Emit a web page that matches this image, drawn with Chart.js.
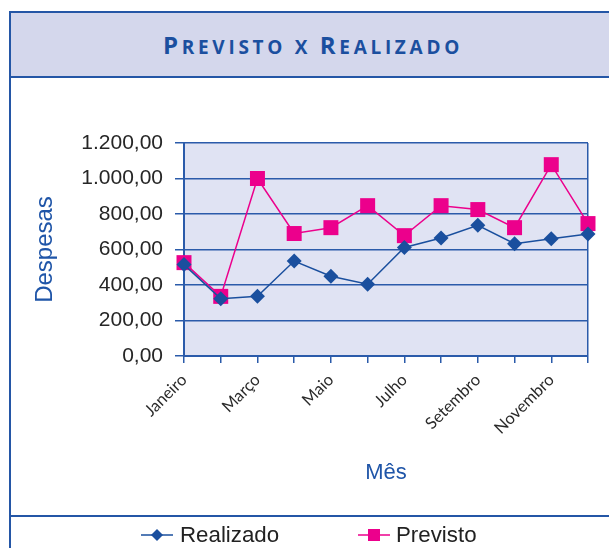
<!DOCTYPE html>
<html>
<head>
<meta charset="utf-8">
<script src="https://cdn.jsdelivr.net/npm/chart.js@4"></script>
<style>
  html, body { margin:0; padding:0; background:#ffffff; width:609px; height:548px; overflow:hidden; }
  #frame { position:absolute; left:9px; top:11px; width:640px; height:600px;
           border-left:2px solid #2456A6; border-top:2px solid #2456A6; }
  #header { position:absolute; left:11px; top:13px; width:640px; height:63px;
            background:#D4D7EC; border-bottom:2px solid #2456A6; }
  #title { position:absolute; left:163px; top:31px; width:320px; text-align:left;
           font-family:"Open Sans", Lato, sans-serif; font-weight:700; font-size:24px;
           color:#1B4F9F; line-height:28px; letter-spacing:3.7px; white-space:nowrap; }
  #title .s { font-size:19px; }
  #sep { position:absolute; left:11px; top:515px; width:640px; height:0; border-top:2px solid #2456A6; }
  #chart { position:absolute; left:0; top:0; }
  .leg { position:absolute; top:522px; font-family:"Liberation Sans", Arial, sans-serif;
         font-size:22.3px; color:#222; line-height:26px; }
  .leg svg { position:absolute; top:4px; }
</style>
</head>
<body>
<div id="frame"></div>
<div id="header"></div>
<div id="title"><span>P</span><span class="s">REVISTO X </span><span>R</span><span class="s">EALIZADO</span></div>
<div id="sep"></div>
<canvas id="chart" width="609" height="548"></canvas>
<div class="leg" style="left:141px;">
  <svg width="34" height="18" viewBox="0 0 34 18"><line x1="0" y1="9" x2="32" y2="9" stroke="#1A4F9E" stroke-width="1.5"/><polygon points="16,3 22,9 16,15 10,9" fill="#1A4F9E"/></svg>
  <span style="position:absolute; left:39px; top:0; white-space:nowrap;" id="legR"></span>
</div>
<div class="leg" style="left:358px;">
  <svg width="34" height="18" viewBox="0 0 34 18"><line x1="0" y1="9" x2="32" y2="9" stroke="#EC008C" stroke-width="1.5"/><rect x="10" y="3" width="12" height="12" fill="#EC008C"/></svg>
  <span style="position:absolute; left:38px; top:0; white-space:nowrap;" id="legP"></span>
</div>
<script>
const months = ['Janeiro','Fevereiro','Março','Abril','Maio','Junho','Julho','Agosto','Setembro','Outubro','Novembro','Dezembro'];
const realizado = [515, 323, 336, 535, 449, 404, 611, 665, 736, 633, 661, 687];
const previsto  = [526, 336, 1000, 690, 723, 847, 678, 847, 825, 723, 1078, 746];
const yTicks = [0, 200, 400, 600, 800, 1000, 1200];
const yTickLabels = ['0,00', '200,00', '400,00', '600,00', '800,00', '1.000,00', '1.200,00'];
const seriesNames = ['Realizado', 'Previsto'];
const yTitle = 'Despesas';
const xTitle = 'Mês';

document.getElementById('legR').textContent = seriesNames[0];
document.getElementById('legP').textContent = seriesNames[1];

const BLUE = '#1A4F9E';
const PINK = '#EC008C';
const GRID = '#2B5BAA';

const plotBg = {
  id: 'plotBg',
  beforeDraw(chart) {
    const {ctx, chartArea: a} = chart;
    ctx.save();
    ctx.fillStyle = '#E0E3F3';
    ctx.fillRect(a.left, a.top, a.right - a.left, a.bottom - a.top);
    ctx.restore();
  }
};

new Chart(document.getElementById('chart'), {
  type: 'line',
  data: {
    labels: months,
    datasets: [
      { label: seriesNames[0], data: realizado, borderColor: BLUE, backgroundColor: BLUE,
        borderWidth: 1.5, pointStyle: 'rectRot', pointRadius: 7.5, pointBorderWidth: 0,
        pointBackgroundColor: BLUE, tension: 0, clip: false, order: 1 },
      { label: seriesNames[1], data: previsto, borderColor: PINK, backgroundColor: PINK,
        borderWidth: 1.5, pointStyle: 'rect', pointRadius: 10.6, pointBorderWidth: 0,
        pointBackgroundColor: PINK, tension: 0, clip: false, order: 2 }
    ]
  },
  options: {
    responsive: false,
    devicePixelRatio: 1,
    animation: false,
    layout: { padding: { left: 31, top: 143, right: 19, bottom: 62 } },
    plugins: { legend: { display: false }, tooltip: { enabled: false }, title: { display: false } },
    scales: {
      x: {
        type: 'category',
        offset: false,
        afterFit(scale) { scale.height = 130; },
        grid: {
          display: true, drawOnChartArea: true, drawTicks: true, tickLength: 7,
          color: (c) => (c.index === months.length - 1 ? GRID : 'rgba(0,0,0,0)'),
          tickColor: GRID, lineWidth: 1.5, tickWidth: 1.5
        },
        border: { display: true, color: GRID, width: 2 },
        ticks: {
          autoSkip: false, maxRotation: 45, minRotation: 45, padding: 7,
          color: '#2a2a2a', font: { family: 'Lato, "Open Sans", sans-serif', size: 16.5 },
          callback: (v, i) => (i % 2 === 0 ? months[i] : '')
        },
        title: { display: true, text: xTitle, color: '#1F55A8',
          font: { family: '"Liberation Sans", Arial, sans-serif', size: 22 }, padding: 0 }
      },
      y: {
        min: 0, max: 1200,
        afterFit(scale) { scale.width = 184 - 31; },
        afterBuildTicks(scale) { scale.ticks = yTicks.map(v => ({ value: v })); },
        grid: { color: GRID, lineWidth: 1.5, tickLength: 9, tickColor: GRID, tickWidth: 1.5 },
        border: { display: true, color: GRID, width: 2 },
        ticks: {
          padding: 12, color: '#262626',
          font: { family: '"Liberation Sans", Arial, sans-serif', size: 21 },
          callback: (v) => yTickLabels[yTicks.indexOf(v)]
        },
        title: { display: true, text: yTitle, color: '#1F55A8',
          font: { family: '"Liberation Sans", Arial, sans-serif', size: 24 }, padding: 0 }
      }
    }
  },
  plugins: [plotBg]
});
</script>
</body>
</html>
